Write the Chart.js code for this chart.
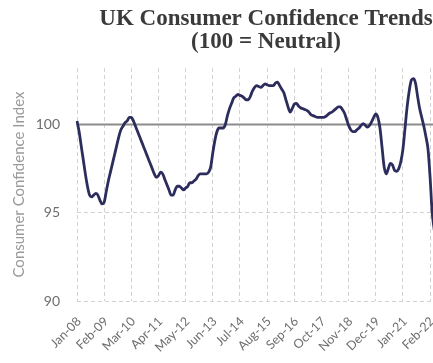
<!DOCTYPE html>
<html>
<head>
<meta charset="utf-8">
<script src="https://cdn.jsdelivr.net/npm/chart.js@4"></script>
<style>
  html, body { margin: 0; padding: 0; background: #fff; overflow: hidden; }
  #wrap { width: 532px; height: 363px; }
</style>
</head>
<body>
<div id="wrap"><canvas id="cciChart"></canvas></div>
<script>
// months Jan-08 .. Dec-22
var monthNames = ["Jan","Feb","Mar","Apr","May","Jun","Jul","Aug","Sep","Oct","Nov","Dec"];
var categories = [];
for (var yr = 8; yr <= 22; yr++) {
    for (var m = 0; m < 12; m++) {
        categories.push(monthNames[m] + "-" + (yr < 10 ? "0" + yr : yr));
    }
}

// labels shown on the x axis
var tickLabels = ["Jan-08","Feb-09","Mar-10","Apr-11","May-12","Jun-13","Jul-14",
                  "Aug-15","Sep-16","Oct-17","Nov-18","Dec-19","Jan-21","Feb-22"];

// consumer confidence index (monthly)
var cci = [
    100.2, 99.6, 98.8, 98.0, 97.2, 96.5, 96.0, 95.9, 96.0, 96.1, 96.0, 95.7,
    95.5, 95.6, 96.2, 96.8, 97.3, 97.8, 98.3, 98.8, 99.3, 99.7, 99.9, 100.1,
    100.2, 100.4, 100.4, 100.2, 99.9, 99.6, 99.3, 99.0, 98.7, 98.4, 98.1, 97.8,
    97.5, 97.2, 97.0, 97.1, 97.3, 97.2, 96.9, 96.6, 96.3, 96.0, 96.0, 96.3,
    96.5, 96.5, 96.4, 96.3, 96.4, 96.5, 96.7, 96.7, 96.8, 96.9, 97.1, 97.2,
    97.2, 97.2, 97.2, 97.3, 97.6, 98.4, 99.1, 99.6, 99.8, 99.8, 99.8, 100.0,
    100.5, 100.9, 101.2, 101.5, 101.6, 101.7, 101.65, 101.6, 101.5, 101.4, 101.4, 101.6,
    101.9, 102.1, 102.2, 102.15, 102.1, 102.2, 102.3, 102.25, 102.2, 102.2, 102.2, 102.35,
    102.4, 102.2, 102.0, 101.8, 101.4, 101.0, 100.7, 100.9, 101.15, 101.2, 101.05, 100.95,
    100.9, 100.85, 100.8, 100.7, 100.55, 100.5, 100.45, 100.4, 100.4, 100.4, 100.4, 100.45,
    100.55, 100.65, 100.7, 100.8, 100.9, 101.0, 101.0, 100.85, 100.65, 100.3, 99.95, 99.7,
    99.6, 99.6, 99.7, 99.8, 99.95, 100.05, 99.95, 99.85, 99.95, 100.15, 100.4, 100.6,
    100.4, 99.8, 98.7, 97.6, 97.2, 97.5, 97.8, 97.7, 97.4, 97.35, 97.5, 97.9,
    98.6, 99.8, 101.0, 101.9, 102.5, 102.6, 102.35, 101.6, 100.9, 100.4, 99.9, 99.3,
    98.6, 97.0, 95.0, 94.0
];

// neutral level
var neutral = categories.map(function () { return 100; });

var yTicks = [90, 95, 100];

var gridColor = "#d2d2d2";

var ctx = document.getElementById("cciChart");
var cciChart = new Chart(ctx, {
    type: "line",
    data: {
        labels: categories,
        datasets: [
            {
                data: cci,
                borderColor: "#2c2d5c",
                borderWidth: 2.8,
                pointRadius: 0,
                cubicInterpolationMode: "monotone",
                fill: false,
                order: 1
            },
            {
                data: neutral,
                borderColor: "#8c8c8c",
                borderWidth: 2,
                pointRadius: 0,
                fill: false,
                order: 2
            }
        ]
    },
    options: {
        responsive: true,
        maintainAspectRatio: false,
        animation: false,
        plugins: {
            legend: { display: false },
            tooltip: { enabled: false },
            title: {
                display: true,
                text: ["UK Consumer Confidence Trends", "(100 = Neutral)"],
                color: "#3a3a3a",
                font: { family: "'Liberation Serif', serif", size: 23, weight: "bold", lineHeight: 1.0 },
                padding: { top: 8, bottom: 14 }
            }
        },
        scales: {
            x: {
                offset: false,
                border: { display: false, dash: [4, 3] },
                grid: {
                    drawTicks: false,
                    color: function (c) {
                        return tickLabels.indexOf(categories[c.index]) >= 0 ? gridColor : "rgba(0,0,0,0)";
                    },
                    lineWidth: 1
                },
                ticks: {
                    autoSkip: false,
                    maxRotation: 45,
                    minRotation: 45,
                    padding: 13,
                    labelOffset: 2,
                    color: "#6e6e6e",
                    font: { family: "Lato", size: 12.5 },
                    callback: function (v, i) {
                        var lab = categories[i];
                        return tickLabels.indexOf(lab) >= 0 ? lab : "";
                    }
                },
                afterFit: function (s) { s.height = 62; }
            },
            y: {
                min: 90,
                max: 103.2,
                border: { display: false, dash: [4, 3] },
                grid: { drawTicks: false, color: gridColor },
                afterBuildTicks: function (s) {
                    s.ticks = yTicks.map(function (v) { return { value: v }; });
                },
                ticks: {
                    padding: 17,
                    color: "#6e6e6e",
                    font: { family: "Lato", size: 14 }
                },
                title: {
                    display: true,
                    text: "Consumer Confidence Index",
                    color: "#9a9a9a",
                    font: { family: "Lato", size: 15 },
                    padding: { top: 10, bottom: 0 }
                },
                afterFit: function (s) { s.width = 77; }
            },
            // empty box on the right so the plot keeps its width
            yRight: {
                position: "right",
                display: true,
                min: 90,
                max: 103.2,
                border: { display: false },
                grid: { display: false, drawOnChartArea: false },
                ticks: { display: false },
                afterFit: function (s) { s.width = 81; }
            }
        }
    }
});
</script>
</body>
</html>
